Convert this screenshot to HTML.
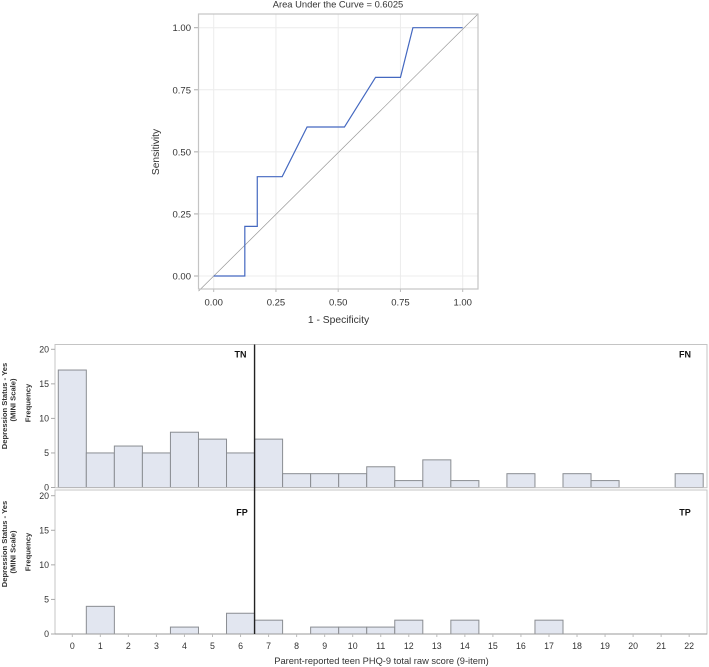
<!DOCTYPE html>
<html lang="en">
<head>
<meta charset="utf-8">
<title>ROC curve and PHQ-9 histograms</title>
<style>
html,body{margin:0;padding:0;background:#fff;width:709px;height:667px;overflow:hidden}
svg{display:block;font-family:"Liberation Sans",Arial,sans-serif}
text{fill:#333}
</style>
</head>
<body>
<svg id="chart" xmlns="http://www.w3.org/2000/svg" width="709" height="667" viewBox="0 0 709 667"></svg>
<script>
const rocFpr = [0, 0.125, 0.125, 0.175, 0.175, 0.275, 0.375, 0.525, 0.65, 0.75, 0.8, 1];
const rocTpr = [0, 0, 0.2, 0.2, 0.4, 0.4, 0.6, 0.6, 0.8, 0.8, 1, 1];
const rocTicks = [0, 0.25, 0.5, 0.75, 1];
const rocTickLabels = ['0.00', '0.25', '0.50', '0.75', '1.00'];
const aucTitle = 'Area Under the Curve = 0.6025';
const scoreCategories = [0,1,2,3,4,5,6,7,8,9,10,11,12,13,14,15,16,17,18,19,20,21,22];
const noDepressionCounts = [17,5,6,5,8,7,5,7,2,2,2,3,1,4,1,0,2,0,2,1,0,0,2];
const depressionCounts = [0,4,0,0,1,0,3,2,0,1,1,1,2,0,2,0,0,2,0,0,0,0,0];
const freqTicks = [0, 5, 10, 15, 20];
const cutoffScore = 6.5;

const svg = document.getElementById('chart');
const NS = 'http://www.w3.org/2000/svg';
function mk(tag, attrs, txt) {
  const e = document.createElementNS(NS, tag);
  for (const k in attrs) e.setAttribute(k, attrs[k]);
  if (txt !== undefined) e.textContent = txt;
  svg.appendChild(e);
  return e;
}

/* ROC axes */
const rx = v => 213.7 + v * 249;
const ry = v => 276 - v * 248.3;

rocTicks.forEach((t, i) => {
  const gv = mk('line', {x1: rx(t), x2: rx(t), y1: 14, y2: 289, stroke: '#ececec', 'stroke-width': 1});
  
  
  const gh = mk('line', {x1: 198.5, x2: 478, y1: ry(t), y2: ry(t), stroke: '#ececec', 'stroke-width': 1});
  
  
  const tx = mk('line', {x1: rx(t), x2: rx(t), y1: 289, y2: 292, stroke: '#bbb', 'stroke-width': 1});
  
  
  const ty = mk('line', {x1: 194, x2: 198.5, y1: ry(t), y2: ry(t), stroke: '#aaa', 'stroke-width': 1});
  
  
  const lx = mk('text', {x: rx(t), y: 305.5, 'font-size': 9.5, 'text-anchor': 'middle'}, rocTickLabels[i]);
  
  
  const ly = mk('text', {x: 191, y: ry(t) + 3.5, 'font-size': 9.5, 'text-anchor': 'end'}, rocTickLabels[i]);
  
  
});

const diag = mk('line', {x1: 198.5, y1: ry((198.5 - 213.7) / 249), x2: 478, y2: 14, stroke: '#999', 'stroke-width': 0.7});



const rocLine = mk('polyline', {
  points: rocFpr.map((f, i) => rx(f).toFixed(2) + ',' + ry(rocTpr[i]).toFixed(2)).join(' '),
  fill: 'none', stroke: '#4468c0', 'stroke-width': 1.2
});



const rocFrame = mk('rect', {x: 198.5, y: 14, width: 279.5, height: 275, fill: 'none', stroke: '#c4c4c4', 'stroke-width': 1.2});



const rocTitle = mk('text', {x: 338, y: 7.5, 'font-size': 9.4, 'text-anchor': 'middle'}, aucTitle);


const rocXT = mk('text', {x: 338.5, y: 323, 'font-size': 10.3, 'text-anchor': 'middle'}, '1 - Specificity');


const rocYT = mk('text', {x: 0, y: 0, 'font-size': 10.3, 'text-anchor': 'middle', transform: 'translate(159,152) rotate(-90)'}, 'Sensitivity');



/* Histograms */
const hx = v => 72.3 + v * 28.04;
const binW = 28.04;

function panel(values, o) {
  const hy = v => o.y0 - v * (o.y0 - o.y20) / 20;
  const prefix = o.prefix;

  values.forEach((v, i) => {
    if (v <= 0) return;
    const c = scoreCategories[i];
    const b = mk('rect', {x: hx(c) - binW / 2, y: hy(v), width: binW, height: hy(0) - hy(v), fill: '#e2e6f0', stroke: '#8a8d92', 'stroke-width': 1});
    
    
  });

  const frame = mk('rect', {x: 55, y: o.top, width: 652, height: o.bottom - o.top, fill: 'none', stroke: '#c4c4c4', 'stroke-width': 1});
  
  

  freqTicks.forEach(t => {
    const k = mk('line', {x1: 51, x2: 55, y1: hy(t), y2: hy(t), stroke: '#aaa', 'stroke-width': 1});
    
    
    const l = mk('text', {x: 49, y: hy(t) + 3.2, 'font-size': 8.8, 'text-anchor': 'end'}, String(t));
    
    
  });

  const cl = mk('text', {x: o.leftX, y: o.labelY, 'font-size': 9, 'font-weight': 'bold', 'text-anchor': 'middle', style: 'fill:#111'}, o.cornerLeft);
  
  
  const cr = mk('text', {x: 685, y: o.labelY, 'font-size': 9, 'font-weight': 'bold', 'text-anchor': 'middle', style: 'fill:#111'}, o.cornerRight);
  
  

  const t1 = mk('text', {'font-size': 7.6, 'font-weight': 'bold', 'text-anchor': 'middle', x: 0, y: 0, transform: 'translate(7,' + o.rowMid + ') rotate(-90)'}, 'Depression Status - Yes');
  
  
  const t2 = mk('text', {'font-size': 7.6, 'font-weight': 'bold', 'text-anchor': 'middle', x: 0, y: 0, transform: 'translate(15.5,' + o.subMid + ') rotate(-90)'}, '(MINI Scale)');
  
  
  const t3 = mk('text', {'font-size': 7.6, 'font-weight': 'bold', 'text-anchor': 'middle', x: 0, y: 0, transform: 'translate(30.5,' + o.freqMid + ') rotate(-90)'}, 'Frequency');
  
  
}

panel(noDepressionCounts, {top: 344.5, bottom: 487.7, y0: 487.5, y20: 349.3, cornerLeft: 'TN', cornerRight: 'FN', leftX: 240.5, labelY: 357.5, prefix: 'upper-histogram', rowMid: 406, subMid: 400, freqMid: 403});
panel(depressionCounts, {top: 490, bottom: 634, y0: 634, y20: 495.7, cornerLeft: 'FP', cornerRight: 'TP', leftX: 242, labelY: 515.5, prefix: 'lower-histogram', rowMid: 544, subMid: 552, freqMid: 552});

const axisBase = mk('line', {x1: 55, x2: 707, y1: 634, y2: 634, stroke: '#9a9a9a', 'stroke-width': 1});



scoreCategories.forEach(c => {
  const k = mk('line', {x1: hx(c), x2: hx(c), y1: 634, y2: 637, stroke: '#bbb', 'stroke-width': 1});
  
  
  const l = mk('text', {x: hx(c), y: 649, 'font-size': 8.8, 'text-anchor': 'middle'}, String(c));
  
  
});

const cutoff = mk('line', {x1: hx(cutoffScore), x2: hx(cutoffScore), y1: 344.5, y2: 634, stroke: '#222', 'stroke-width': 1.4});



const histXT = mk('text', {x: 381.5, y: 664, 'font-size': 9.3, 'text-anchor': 'middle'}, 'Parent-reported teen PHQ-9 total raw score (9-item)');


</script>
</body>
</html>
